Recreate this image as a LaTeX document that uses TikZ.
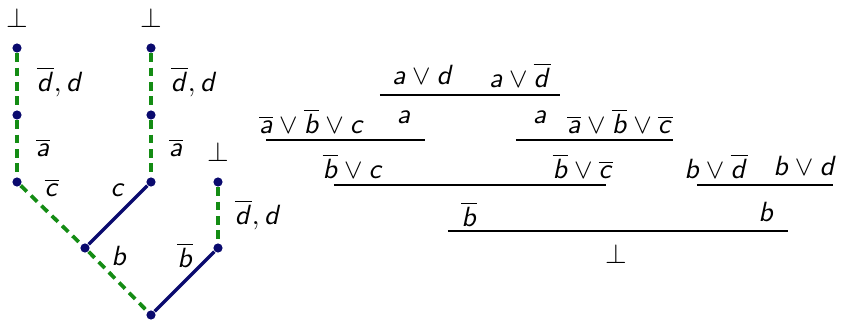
\documentclass[tikz,border=0pt]{standalone}
\usetikzlibrary{calc}
\DeclareMathAlphabet{\mathsfsl}{OT1}{cmss}{m}{sl}
\newcommand{\va}{\mathsfsl{a}}
\newcommand{\vb}{\mathsfsl{b}}
\newcommand{\vc}{\mathsfsl{c}}
\newcommand{\vd}{\mathsfsl{d}}
\newcommand{\na}{\overline{\va}}
\newcommand{\nb}{\overline{\vb}}
\newcommand{\nc}{\overline{\vc}}
\newcommand{\nd}{\overline{\vd}}
\definecolor{navy}{RGB}{10,10,110}
\definecolor{dgreen}{RGB}{20,140,20}
\tikzset{
  dot/.style={circle,fill=navy,inner sep=0pt,minimum size=3.3pt},
  dec/.style={draw=dgreen,line width=1.35pt,dash pattern=on 3.1pt off 2.1pt},
  prop/.style={draw=navy,line width=1.25pt},
  lbl/.style={inner sep=0pt,anchor=center},
  rule/.style={line width=0.72pt},
}
\begin{document}
\begin{tikzpicture}[x=0.36pt,y=-0.36pt]
\useasboundingbox (0,0) rectangle (844,320);
% tree
\node[lbl] (t1) at (17,18) {$\bot$};
\node[lbl] (t2) at (151,18) {$\bot$};
\node[lbl] (t3) at (218,152) {$\bot$};
\node[dot] (a1) at (17,48) {};
\node[dot] (a2) at (17,115) {};
\node[dot] (a3) at (17,182) {};
\node[dot] (b1) at (151,48) {};
\node[dot] (b2) at (151,115) {};
\node[dot] (b3) at (151,182) {};
\node[dot] (c1) at (218,182) {};
\node[dot] (c2) at (218,248) {};
\node[dot] (m) at (85,248) {};
\node[dot] (r) at (151,315) {};
\draw[dec] (a1) -- (a2);
\draw[dec] (a2) -- (a3);
\draw[dec] (b1) -- (b2);
\draw[dec] (b2) -- (b3);
\draw[dec] (c1) -- (c2);
\draw[dec] (a3) -- (m);
\draw[dec] (m) -- (r);
\draw[prop] (b3) -- (m);
\draw[prop] (c2) -- (r);
\node[lbl] (l1) at (60,82) {$\nd, \vd$};
\node[lbl] (l2) at (43,148) {$\na$};
\node[lbl] (l3) at (194,82) {$\nd, \vd$};
\node[lbl] (l4) at (176,148) {$\na$};
\node[lbl] (l5) at (52,188) {$\nc$};
\node[lbl] (l6) at (118,190) {$\vc$};
\node[lbl] (l7) at (119,256) {$\vb$};
\node[lbl] (l8) at (185,255) {$\nb$};
\node[lbl] (l9) at (258,215) {$\nd, \vd$};
% resolution proof
\node[lbl] (p1) at (423,75) {$\va\vee\vd$};
\node[lbl] (p2) at (520,75) {$\va\vee\nd$};
\draw[rule] (380,95) -- (560,95);
\node[lbl] (p3) at (312,121) {$\na\vee\nb\vee\vc$};
\node[lbl] (p4) at (404,117) {$\va$};
\draw[rule] (266,140) -- (425,140);
\node[lbl] (p5) at (540,117) {$\va$};
\node[lbl] (p6) at (620,121) {$\na\vee\nb\vee\nc$};
\draw[rule] (516,140) -- (673,140);
\node[lbl] (p7) at (353,166) {$\nb\vee\vc$};
\node[lbl] (p8) at (583,166) {$\nb\vee\nc$};
\draw[rule] (334,185) -- (606,185);
\node[lbl] (p9) at (716,166) {$\vb\vee\nd$};
\node[lbl] (p10) at (805,166) {$\vb\vee\vd$};
\draw[rule] (697,185) -- (833,185);
\node[lbl] (p11) at (469,214) {$\nb$};
\node[lbl] (p12) at (766,212) {$\vb$};
\draw[rule] (448,231) -- (788,231);
\node[lbl] (p13) at (616,254) {$\bot$};
\end{tikzpicture}
\end{document}
